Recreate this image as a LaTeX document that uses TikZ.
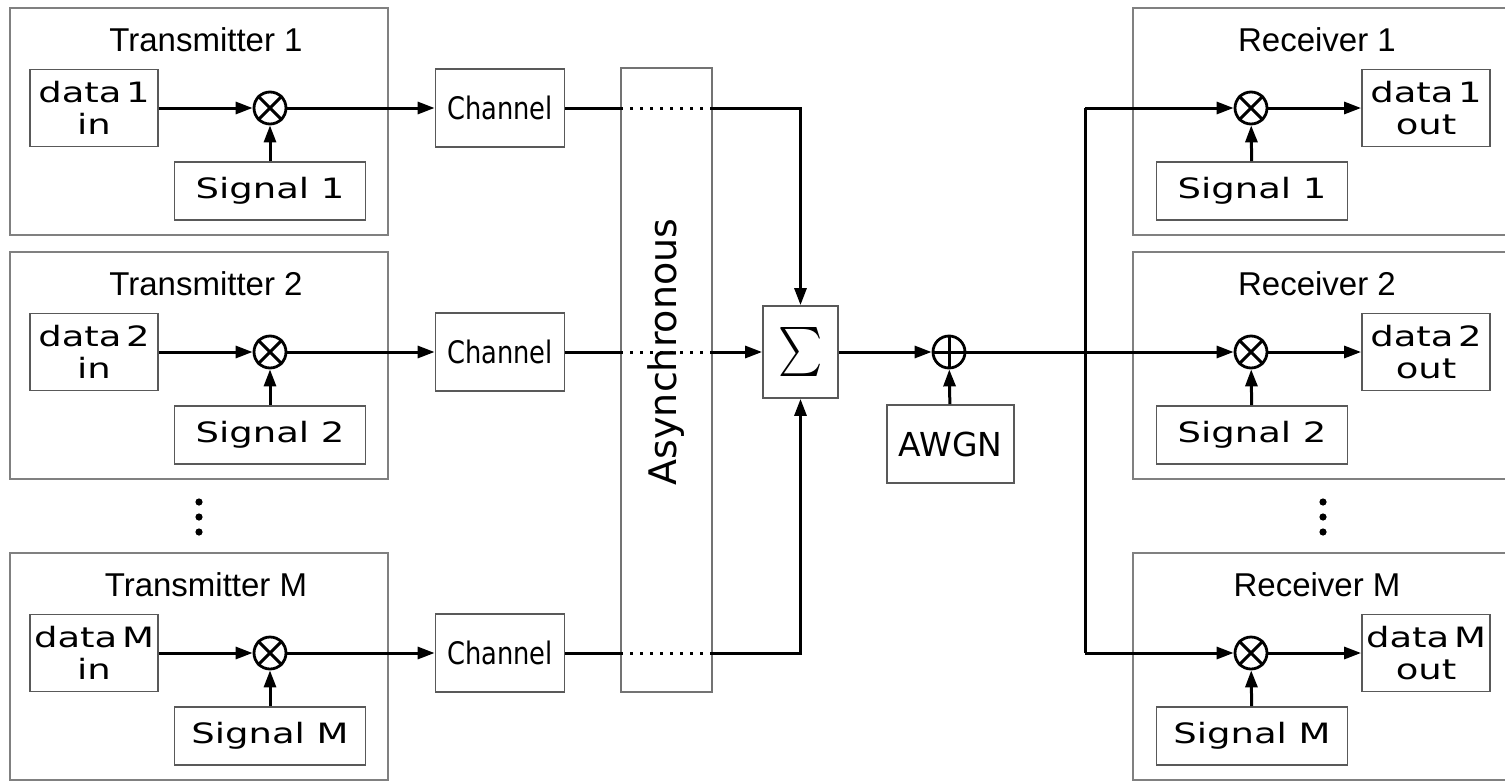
\documentclass[tikz,border=0pt]{standalone}
\usepackage{fontspec}
\usetikzlibrary{arrows.meta}
\newfontfamily\titlefont{Liberation Sans}
\newfontfamily\boxfont[FakeStretch=1.32]{DejaVu Sans}
\newfontfamily\chanfont[FakeStretch=0.83]{DejaVu Sans}
\newfontfamily\plainfont{DejaVu Sans}

\tikzset{
  unit/.style={draw=black!65, line width=1.8pt, inner sep=0pt},
  frame/.style={draw=black!50, line width=2pt},
  datbox/.style={unit, minimum width=128pt, minimum height=77pt, align=center,
    font=\boxfont\fontsize{28}{32}\selectfont},
  sigbox/.style={unit, minimum width=191pt, minimum height=58pt,
    font=\boxfont\fontsize{28}{32}\selectfont},
  chanbox/.style={unit, minimum width=129pt, minimum height=78pt,
    font=\chanfont\fontsize{31}{31}\selectfont},
  mixer/.style={circle, draw, line width=2.8pt, minimum size=32pt, inner sep=0pt},
  title/.style={font=\titlefont\fontsize{33}{33}\selectfont},
  sig/.style={line width=3pt},
  >={Triangle[length=17pt,width=12pt]}
}

\begin{document}
\begin{tikzpicture}[x=1pt,y=-1pt]
  \useasboundingbox (0,0) rectangle (1505,782);
  \foreach \row/\ypos/\lab in {1/108/1,2/352/2,3/653/M}{
    % transmitter
    \draw[frame] (10,\ypos-100) rectangle (388,\ypos+127);
    \node[title] (tt\row) at (206,\ypos-68) {Transmitter \lab};
    \node[datbox] (d\row) at (94,\ypos) {data\,\lab\\in};
    \node[mixer] (m\row) at (270,\ypos) {};
    \draw[sig] (m\row.north west) -- (m\row.south east) (m\row.north east) -- (m\row.south west);
    \node[sigbox] (s\row) at (270,\ypos+83) {Signal \lab};
    \node[chanbox] (c\row) at (500,\ypos) {Channel};
    \draw[sig,->] (d\row) -- (m\row);
    \draw[sig,->] (s\row) -- (m\row);
    \draw[sig,->] (m\row) -- (c\row);
    % receiver
    \draw[frame] (1510,\ypos-100) -- (1133,\ypos-100) -- (1133,\ypos+127) -- (1510,\ypos+127);
    \node[title] (rt\row) at (1317,\ypos-68) {Receiver \lab};
    \node[mixer] (n\row) at (1251,\ypos) {};
    \draw[sig] (n\row.north west) -- (n\row.south east) (n\row.north east) -- (n\row.south west);
    \node[datbox] (o\row) at (1426,\ypos) {data\,\lab\\out};
    \node[sigbox] (q\row) at (1252,\ypos+83) {Signal \lab};
    \draw[sig,->] (n\row) -- (o\row);
    \draw[sig,->] (q\row) -- (n\row);
  }
  \foreach \dy in {502,517,532}{
    \fill (199,\dy) circle (3.6pt);
    \fill (1323,\dy) circle (3.6pt);
  }
  % asynchronous combining
  \node[unit, draw=black!55, line width=2pt, minimum width=91pt, minimum height=624pt] (as) at (666.5,380) {};
  \node[rotate=90, font=\plainfont\fontsize{38}{38}\selectfont] (astext) at (666,352) {Asynchronous};
  \node[unit, minimum width=75pt, minimum height=92pt] (sum) at (800.5,352) {\scalebox{4.2}[4.9]{$\sum$}};
  \foreach \row in {1,2,3}{
    \draw[sig] (c\row) -- (c\row -| as.west);
    \draw[sig, dash pattern=on 3pt off 7pt] (c\row -| as.west) -- (c\row -| as.east);
  }
  \draw[sig,->] (c1 -| as.east) -| (sum.north);
  \draw[sig,->] (c2 -| as.east) -- (sum.west);
  \draw[sig,->] (c3 -| as.east) -| (sum.south);
  % channel noise
  \node[mixer] (add) at (949,352) {};
  \draw[sig] (add.north) -- (add.south) (add.west) -- (add.east);
  \node[unit, minimum width=127pt, minimum height=78pt, font=\plainfont\fontsize{33}{33}\selectfont] (awgn) at (950.5,444) {AWGN};
  \draw[sig,->] (sum) -- (add);
  \draw[sig,->] (awgn) -- (add);
  \coordinate (j) at (1085,352);
  \draw[sig,->] (add) -- (n2);
  \draw[sig] (j |- n1) -- (j |- n3);
  \draw[sig,->] (j |- n1) -- (n1);
  \draw[sig,->] (j |- n3) -- (n3);
\end{tikzpicture}
\end{document}
